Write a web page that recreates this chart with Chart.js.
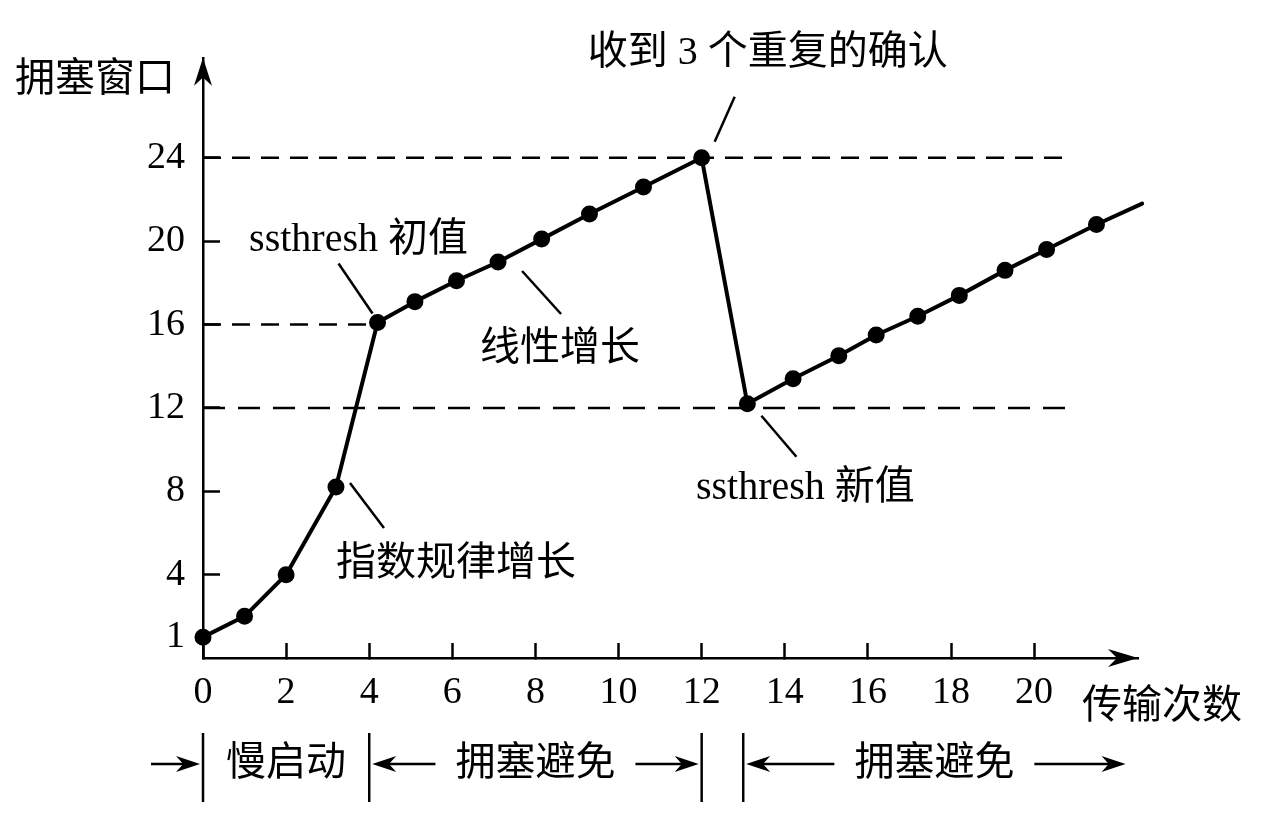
<!DOCTYPE html>
<html><head><meta charset="utf-8">
<script src="https://cdn.jsdelivr.net/npm/chart.js@4.4.0/dist/chart.umd.min.js"></script>
<style>html,body{margin:0;padding:0;background:#fff;}canvas{display:block;}</style>
</head><body>
<canvas id="c" width="1280" height="820"></canvas>
<script>
// ---- data ----
const transmissions = [0, 1, 2, 3.2, 4.2, 5.1, 6.1, 7.1, 8.15, 9.3, 10.6, 12, 13.1, 14.2, 15.3, 16.2, 17.2, 18.2, 19.3, 20.3, 21.5, 22.6];
const cwnd          = [1, 2, 4, 8.2, 16.1, 17.1, 18.1, 19, 20.1, 21.3, 22.6, 24, 12.2, 13.4, 14.5, 15.5, 16.4, 17.4, 18.6, 19.6, 20.8, 21.8];
const thresholdLevels = [24, 16, 12];
const thresholdEnds   = [20.9, 4.2, 20.8];
const yTickValues = [1, 4, 8, 12, 16, 20, 24];
const xTickValues = [0, 2, 4, 6, 8, 10, 12, 14, 16, 18, 20];
const phaseBounds = [0, 4, 12, 13, 22.2];
const phaseLabels = ['慢启动', '拥塞避免', '拥塞避免'];
const yAxisTitle = '拥塞窗口';
const xAxisTitle = '传输次数';
const noteTexts = ['ssthresh 初值', '线性增长', '收到 3 个重复的确认', 'ssthresh 新值', '指数规律增长'];
const noteAnchorIndex = [4, 7, 11, 12, 3];

// ---- styling / layout of annotations (pixel offsets from anchor point) ----
const FONT = "'Liberation Serif','Noto Sans CJK SC',serif";
const noteGeom = [
  {l:[-39,-59,-5,-9], t:[-19,-82]},
  {l:[24,9,63,52],    t:[62,87]},
  {l:[33,-61,13,-16], t:[66,-104]},
  {l:[14,12,49,53],   t:[58,85]},
  {l:[14,-4,48,41],   t:[120,77]}
];

const mainPoints = transmissions.map((x, i) => ({x, y: cwnd[i]}));
const datasets = [{
  data: mainPoints, showLine: true, borderColor: '#000', borderWidth: 4,
  pointBackgroundColor: '#000', pointBorderColor: '#000',
  pointRadius: c => c.dataIndex === transmissions.length - 1 ? 0 : 6.5,
  borderJoinStyle: 'round', borderCapStyle: 'round', clip: false, order: 0
}];
thresholdLevels.forEach((lv, i) => {
  datasets.push({
    data: [{x: 0, y: lv}, {x: thresholdEnds[i], y: lv}], showLine: true,
    borderColor: '#000', borderWidth: 2.5, borderDash: i === 2 ? [22, 13] : [18, 11],
    pointRadius: 0, order: 1
  });
});

function arrowHead(ctx, tx, ty, dx, dy, len, hw) {
  const px = -dy, py = dx;
  ctx.beginPath();
  ctx.moveTo(tx, ty);
  ctx.lineTo(tx - dx*len + px*hw, ty - dy*len + py*hw);
  ctx.lineTo(tx - dx*len*0.7, ty - dy*len*0.7);
  ctx.lineTo(tx - dx*len - px*hw, ty - dy*len - py*hw);
  ctx.closePath(); ctx.fill();
}
function hArrow(ctx, x1, x2, y) {
  const d = Math.sign(x2 - x1);
  ctx.beginPath(); ctx.moveTo(x1, y); ctx.lineTo(x2 - d*12, y); ctx.stroke();
  arrowHead(ctx, x2, y, d, 0, 24, 8);
}

const decor = {
  id: 'decor',
  afterDraw(chart) {
    const ctx = chart.ctx, xs = chart.scales.x, ys = chart.scales.y, a = chart.chartArea;
    ctx.save();
    ctx.fillStyle = '#000'; ctx.strokeStyle = '#000';
    // axis arrows
    arrowHead(ctx, a.left, a.top, 0, -1, 28, 9);
    arrowHead(ctx, a.right, a.bottom, 1, 0, 30, 9);
    // axis titles
    ctx.font = '40px ' + FONT;
    ctx.textBaseline = 'middle';
    ctx.textAlign = 'right'; ctx.fillText(yAxisTitle, a.left - 28, a.top + 23);
    ctx.textAlign = 'left'; ctx.fillText(xAxisTitle, a.right - 56, a.bottom + 49);
    // annotations
    ctx.lineWidth = 2.5;
    noteTexts.forEach((txt, i) => {
      const k = noteAnchorIndex[i];
      const px = xs.getPixelForValue(transmissions[k]), py = ys.getPixelForValue(cwnd[k]);
      const g = noteGeom[i];
      ctx.beginPath(); ctx.moveTo(px + g.l[0], py + g.l[1]); ctx.lineTo(px + g.l[2], py + g.l[3]); ctx.stroke();
      ctx.textAlign = 'center';
      ctx.fillText(txt, px + g.t[0], py + g.t[1]);
    });
    // phase row
    const rowY = a.bottom + 106;
    ctx.lineWidth = 2.5;
    phaseBounds.slice(0, 4).forEach(v => {
      const x = xs.getPixelForValue(v);
      ctx.beginPath(); ctx.moveTo(x, a.bottom + 75); ctx.lineTo(x, a.bottom + 144); ctx.stroke();
    });
    ctx.lineWidth = 2.4;
    const segs = [[0,1],[1,2],[3,4]];
    segs.forEach((s, i) => {
      const x1 = xs.getPixelForValue(phaseBounds[s[0]]), x2 = xs.getPixelForValue(phaseBounds[s[1]]);
      const cx = (x1 + x2) / 2;
      ctx.textAlign = 'center';
      ctx.fillText(phaseLabels[i], cx, rowY);
      const w = ctx.measureText(phaseLabels[i]).width;
      if (i === 0) {
        hArrow(ctx, x1 - 52, x1 - 3, rowY);
      } else {
        hArrow(ctx, cx - w/2 - 20, x1 + 3, rowY);
        hArrow(ctx, cx + w/2 + 20, x2 - (i === 2 ? 0 : 3), rowY);
      }
    });
    ctx.restore();
  }
};

new Chart(document.getElementById('c'), {
  type: 'scatter',
  data: {datasets},
  options: {
    responsive: false, animation: false, devicePixelRatio: 1,
    layout: {padding: {top: 57, right: 142, left: 0, bottom: 0}},
    plugins: {legend: {display: false}, tooltip: {enabled: false}},
    scales: {
      x: {
        type: 'linear', min: 0, max: 22.5,
        afterBuildTicks: s => { s.ticks = xTickValues.map(v => ({value: v})); },
        afterFit: s => { s.height = 162; },
        border: {color: '#000', width: 2.5},
        grid: {drawOnChartArea: false, drawTicks: true, tickLength: -15, tickWidth: 2.5, tickColor: '#000'},
        ticks: {color: '#000', font: {family: FONT, size: 38}, padding: 27, maxRotation: 0, autoSkip: false}
      },
      y: {
        type: 'linear', min: 0, max: 28.8,
        afterBuildTicks: s => { s.ticks = yTickValues.map(v => ({value: v})); },
        afterFit: s => { s.width = 203; },
        border: {color: '#000', width: 2.5},
        grid: {drawOnChartArea: false, drawTicks: true, tickLength: -17, tickWidth: 2.5,
               tickColor: c => (c.tick && c.tick.value === 1) ? 'rgba(0,0,0,0)' : '#000'},
        ticks: {color: '#000', font: {family: FONT, size: 38}, padding: 35, autoSkip: false}
      }
    }
  },
  plugins: [decor]
});
</script>
</body></html>
